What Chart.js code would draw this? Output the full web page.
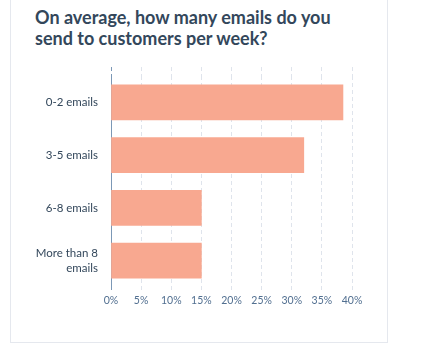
<!DOCTYPE html>
<html lang="en">
<head>
    <meta charset="UTF-8">
    <title>Emails per week</title>
    <style>
        body {
            margin: 0;
            background: #fff;
            font-family: Lato, "Open Sans", sans-serif;
        }
        #card {
            position: absolute;
            left: 10px;
            top: -2px;
            width: 378px;
            height: 345px;
            border: 1px solid #e5e8ee;
            box-sizing: border-box;
        }
        #title {
            position: absolute;
            left: 35px;
            top: 7px;
            margin: 0;
            font-size: 18px;
            font-weight: 700;
            line-height: 21px;
            color: #33475b;
        }
        #box {
            position: absolute;
            left: 10px;
            top: 60px;
            width: 377px;
            height: 282px;
        }
    </style>
    <script src="https://cdn.jsdelivr.net/npm/chart.js"></script>
</head>
<body>
<div id="card"></div>
<h1 id="title">On average, how many emails do you<br>send to customers per week?</h1>
<div id="box"><canvas id="myChart"></canvas></div>
<script>
    const categories = ['0-2 emails', '3-5 emails', '6-8 emails', ['More than 8', 'emails']];
    const shares = [38.5, 32, 15, 15];
    const xTicks = [0, 5, 10, 15, 20, 25, 30, 35, 40];

    const gridColor = '#dfe4ec';
    const axisColor = '#7c98b6';

    function tickColor(ctx) {
        return ctx.tick && ctx.tick.value === 0 ? axisColor : gridColor;
    }

    let ctx = document.getElementById('myChart').getContext('2d');
    let myChart = new Chart(ctx, {
        type: 'bar',
        data: {
            labels: categories,
            datasets: [{
                data: shares,
                backgroundColor: '#f8a890',
                borderWidth: 0,
                barThickness: 35
            }]
        },
        options: {
            indexAxis: 'y',
            responsive: true,
            maintainAspectRatio: false,
            animation: false,
            layout: {padding: {top: 7, right: 35, bottom: 36, left: 0}},
            plugins: {
                legend: {display: false},
                tooltip: {enabled: false}
            },
            scales: {
                x: {
                    min: 0,
                    max: 40,
                    afterBuildTicks: (s) => { s.ticks = xTicks.map(v => ({value: v})); },
                    afterFit: (s) => { s.height = 19; },
                    border: {display: false, dash: [4, 3]},
                    grid: {
                        color: tickColor,
                        tickColor: tickColor,
                        tickLength: 3,
                        tickBorderDash: [4, 3]
                    },
                    ticks: {
                        padding: 4,
                        color: '#516f90',
                        font: {family: 'Lato', size: 10.5},
                        callback: (v) => v + '%'
                    }
                },
                x2: {
                    position: 'top',
                    min: 0,
                    max: 40,
                    afterBuildTicks: (s) => { s.ticks = xTicks.map(v => ({value: v})); },
                    afterFit: (s) => { s.height = 9; },
                    border: {display: false},
                    grid: {
                        drawOnChartArea: false,
                        tickColor: tickColor,
                        tickLength: 9,
                        tickBorderDash: [4, 3]
                    },
                    ticks: {display: false}
                },
                y: {
                    afterFit: (s) => {
                        s.width = 101;
                        s.paddingTop = 0;
                        s.paddingBottom = 0;
                    },
                    border: {display: true, color: axisColor, width: 1},
                    grid: {display: false, drawTicks: false},
                    ticks: {
                        padding: 13,
                        color: '#33475b',
                        font: {family: 'Lato', size: 11.5, lineHeight: 1.25}
                    }
                }
            }
        }
    });
</script>
</body>
</html>
